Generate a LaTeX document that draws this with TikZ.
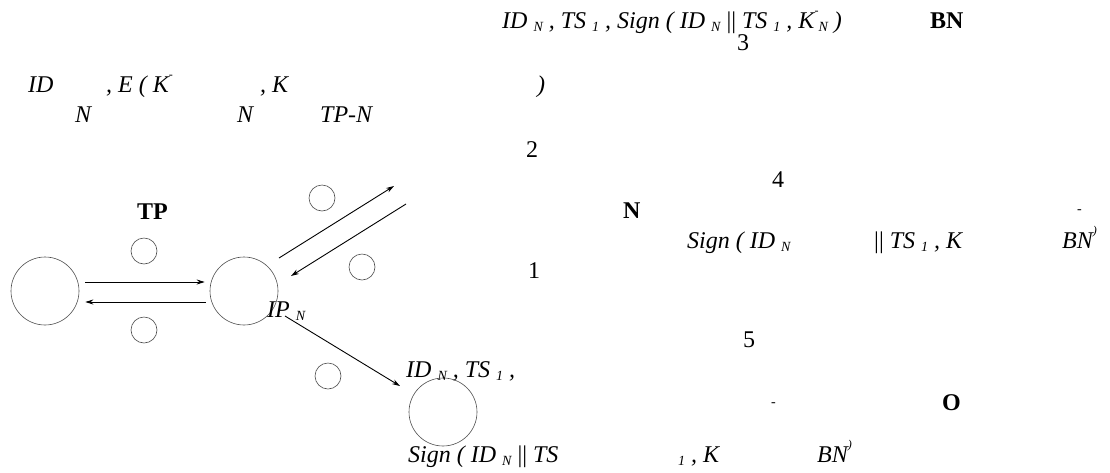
\documentclass[tikz,border=0pt]{standalone}
\usepackage{fontspec}
\setmainfont{Liberation Serif}
\usetikzlibrary{arrows.meta}
\newcommand{\lo}[1]{\raisebox{-0.15em}{\fontsize{14}{14}\selectfont #1}}
\newcommand{\hi}[1]{\raisebox{0.55em}{\fontsize{12}{12}\selectfont #1}}

\begin{document}
\begin{tikzpicture}[x=1pt, y=-1pt,
  big/.style={circle, draw=black!70, line width=0.6pt, minimum size=68pt, inner sep=0pt},
  small/.style={circle, draw=black!70, line width=0.6pt, minimum size=26pt, inner sep=0pt},
  txt/.style={anchor=base west, inner sep=0pt, font=\fontsize{24}{24}\selectfont\itshape},
  num/.style={anchor=base west, inner sep=0pt, font=\fontsize{24}{24}\selectfont},
  lbl/.style={anchor=base west, inner sep=0pt, font=\fontsize{24}{24}\selectfont\bfseries},
  msg/.style={-{Stealth[length=8pt,width=5pt]}, line width=0.9pt}]
  \useasboundingbox (0,0) rectangle (1110,472);

  % entities
  \node[big] (tp) at (45,291) {};
  \node[big] (nd) at (244,291) {};
  \node[big] (od) at (443,412) {};

  % step circles
  \node[small] (s1) at (144,251) {};
  \node[small] (s2) at (144,330) {};
  \node[small] (s3) at (322,198) {};
  \node[small] (s4) at (362,267) {};
  \node[small] (s5) at (328,376) {};

  % loose ends towards BN
  \coordinate (toBN) at (394,186);
  \coordinate (fromBN) at (406,204);

  % messages
  \draw[msg] ([shift={(6pt,9pt)}]tp.east) -- ([shift={(-5pt,9pt)}]nd.west);
  \draw[msg] ([shift={(-4pt,-11pt)}]nd.west) -- ([shift={(6pt,-11pt)}]tp.east);
  \draw[msg] ([shift={(35pt,33pt)}]nd.center) -- (toBN);
  \draw[msg] (fromBN) -- ([shift={(47pt,15pt)}]nd.center);
  \draw[msg] ([shift={(41pt,-25pt)}]nd.center) -- ([shift={(-43pt,26pt)}]od.center);

  % labels
  \node[lbl] (tpname) at (137,219) {TP};
  \node[lbl] (ndname) at (623,218) {N};
  \node[lbl] (bnname) at (930,28) {BN};
  \node[lbl] (odname) at (942,410) {O};
  \node[txt] (ip) at (267,317) {IP \lo{N}};

  % step numbers
  \node[num] (n1) at (528,278) {1};
  \node[num] (n2) at (526,157) {2};
  \node[num] (n3) at (737,50) {3};
  \node[num] (n4) at (772,187) {4};
  \node[num] (n5) at (743,347) {5};

  % message 3
  \node[txt] (m3) at (502,28) {ID \lo{N} , TS \lo{1} , Sign ( ID \lo{N} {\upshape||} TS \lo{1} , K\hi{-}\lo{N} )};

  % message 2
  \node[txt] (m2a) at (28,92) {ID};
  \node[txt] (m2b) at (106,92) {, E ( K\hi{-}};
  \node[txt] (m2c) at (260,92) {, K};
  \node[txt] (m2d) at (537,92) {)};
  \node[txt] (m2e) at (75,122) {N};
  \node[txt] (m2f) at (237,122) {N};
  \node[txt] (m2g) at (320,122) {TP-N};

  % message 4
  \node[txt] (m4a) at (687,248) {Sign ( ID \lo{N}};
  \node[txt] (m4b) at (874,248) {{\upshape||} TS \lo{1} , K};
  \node[txt, font=\fontsize{14}{14}\selectfont] (m4c) at (1077,213) {-};
  \node[txt] (m4d) at (1062,248) {BN\hi{)}};

  % message 5
  \node[txt] (m5a) at (406,377) {ID \lo{N} , TS \lo{1} ,};
  \node[txt, font=\fontsize{14}{14}\selectfont] (m5b) at (771,406) {-};
  \node[txt] (m5c) at (408,462) {Sign ( ID \lo{N} {\upshape||} TS};
  \node[txt] (m5d) at (678,462) {\lo{1} , K};
  \node[txt] (m5e) at (817,462) {BN\hi{)}};
\end{tikzpicture}
\end{document}
